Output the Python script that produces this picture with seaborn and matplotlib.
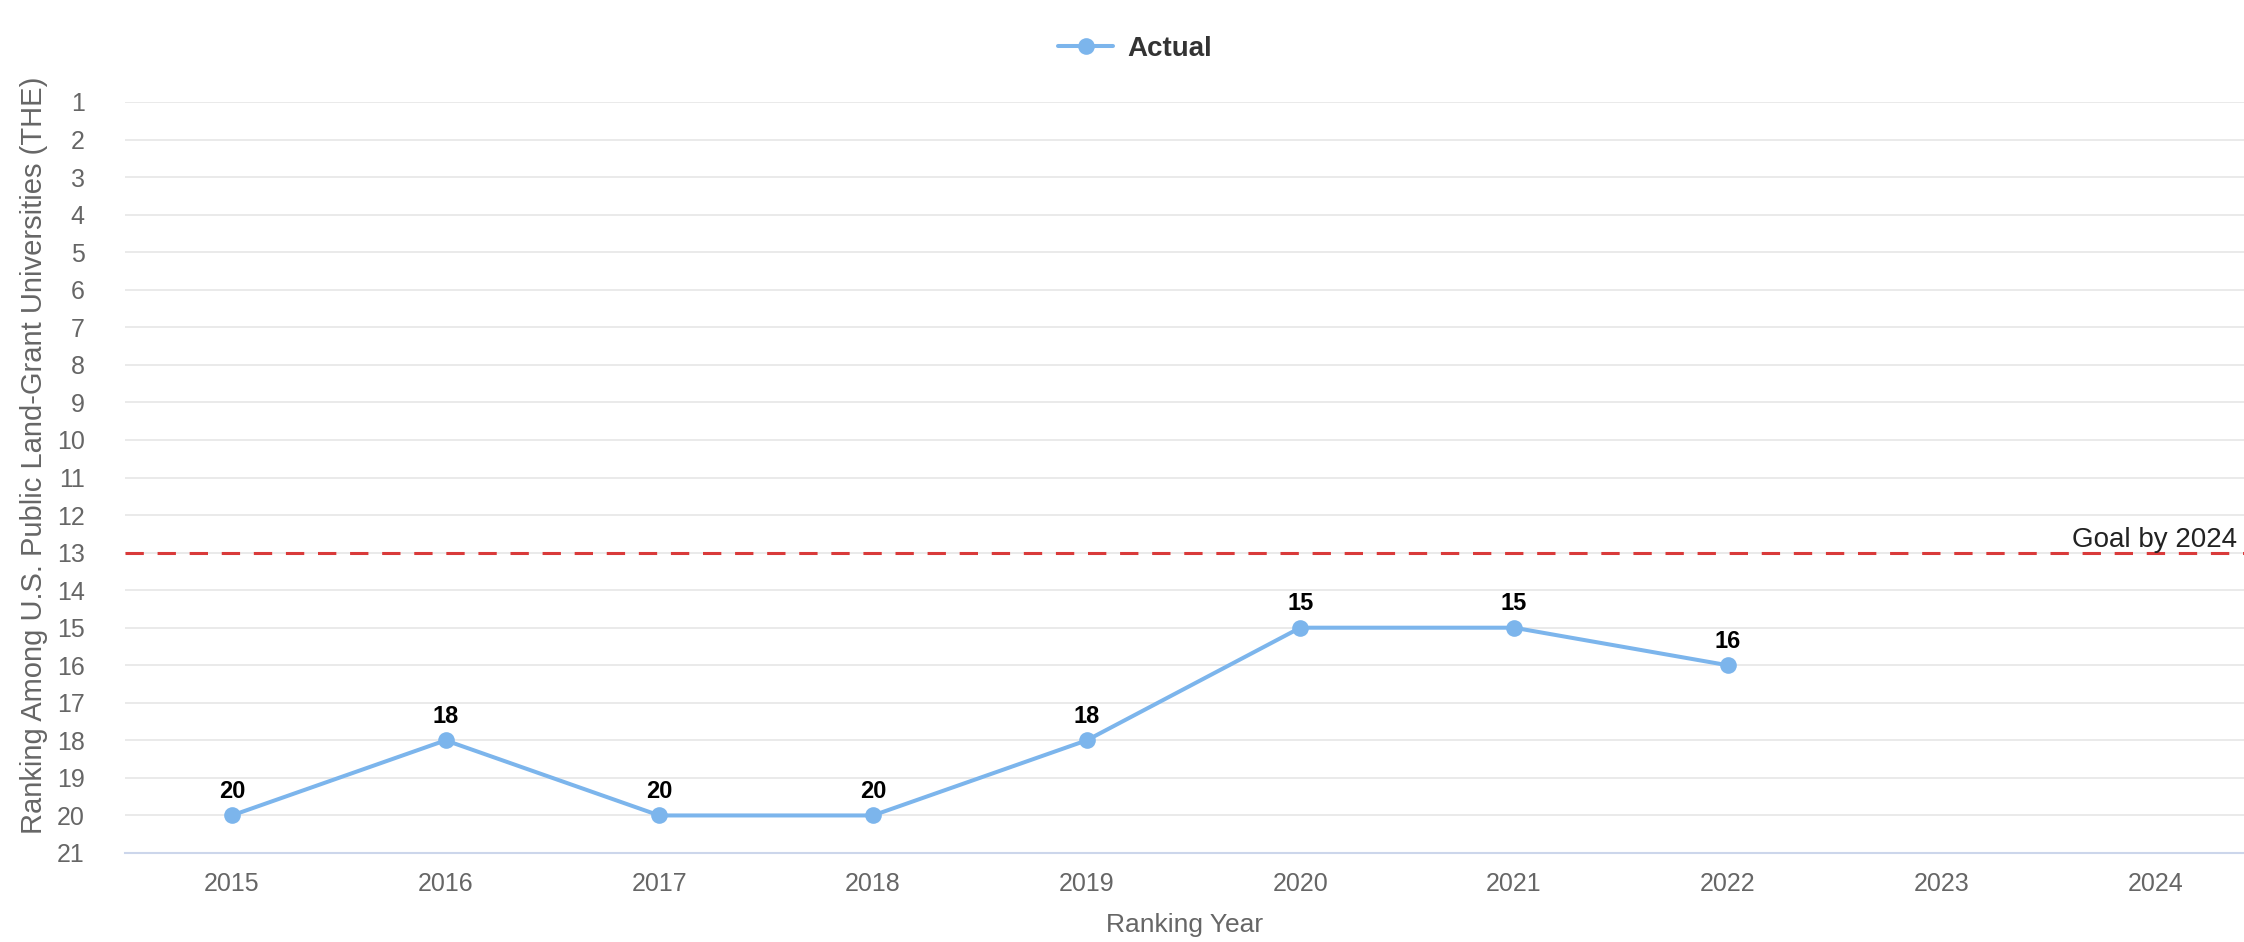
import matplotlib
matplotlib.use("Agg")
import matplotlib.pyplot as plt
import seaborn as sns
import pandas as pd

# Chart values
years = [2015, 2016, 2017, 2018, 2019, 2020, 2021, 2022]
ranking = [20, 18, 20, 20, 18, 15, 15, 16]
tick_years = [2015, 2016, 2017, 2018, 2019, 2020, 2021, 2022, 2023, 2024]
rank_ticks = list(range(1, 22))
goal_rank = 13
goal_label = "Goal by 2024"
series_name = "Actual"

data = pd.DataFrame({"year": years, "rank": ranking})

sns.set_style("white")
plt.rcParams["font.family"] = ["Liberation Sans", "DejaVu Sans"]

fig = plt.figure(figsize=(22.44, 9.42), dpi=100)
# Plot area in pixels: left 125, bottom 853, top 102
ax = fig.add_axes([125 / 2244, 89 / 942, 1 - 125 / 2244, 751 / 942])

line_color = "#7cb5ec"
sns.lineplot(data=data, x="year", y="rank", ax=ax, color=line_color,
             linewidth=2.9, marker="o", markersize=12, markeredgewidth=0,
             label=series_name, legend=False)

# Goal line
ax.axhline(goal_rank, color="#d93a3a", linewidth=2.2, linestyle=(0, (6, 4.5)), zorder=1)
ax.text(2237 / 2244, goal_rank, goal_label, transform=ax.get_yaxis_transform(),
        ha="right", va="bottom", fontsize=20, color="#222222")

# Data labels
for x, y in zip(years, ranking):
    ax.annotate(str(y), (x, y), xytext=(0, 9), textcoords="offset points",
                ha="center", va="bottom", fontsize=17, fontweight="bold", color="#000000")

# Axes
ax.set_ylim(21, 1)
ax.set_yticks(rank_ticks)
ax.set_yticklabels([str(r) for r in rank_ticks])
ax.set_xlim(2014.5, 2014.5 + (2244 - 125) / 213.7)
ax.set_xticks(tick_years)
ax.set_xticklabels([str(t) for t in tick_years])
ax.tick_params(axis="both", length=0, labelsize=18, labelcolor="#666666")
ax.tick_params(axis="x", pad=14)
ax.tick_params(axis="y", pad=29)
for lbl in ax.get_yticklabels():
    lbl.set_horizontalalignment("right")

ax.grid(axis="y", color="#e6e6e6", linewidth=1.2)
ax.grid(axis="x", visible=False)
for side in ["top", "left", "right"]:
    ax.spines[side].set_visible(False)
ax.spines["bottom"].set_color("#ccd6eb")
ax.spines["bottom"].set_linewidth(1.5)
ax.set_axisbelow(True)

ax.set_xlabel("Ranking Year", fontsize=19, color="#666666", labelpad=12)
ax.set_ylabel("")
# Y title sits a little above the plot centre in the reference
fig.text(34 / 2244, 1 - 455 / 942,
         "Ranking Among U.S. Public Land-Grant Universities (THE)",
         rotation=90, ha="center", va="center", fontsize=21, color="#666666")

# Legend at top centre
handles, labels = ax.get_legend_handles_labels()
leg = fig.legend(handles, labels, loc="center", bbox_to_anchor=(1135 / 2244, 1 - 49 / 942),
                 frameon=False, handlelength=2.0, handletextpad=0.5,
                 prop={"size": 20, "weight": "bold"})
for t in leg.get_texts():
    t.set_color("#333333")

fig.savefig("out.png", dpi=100)
